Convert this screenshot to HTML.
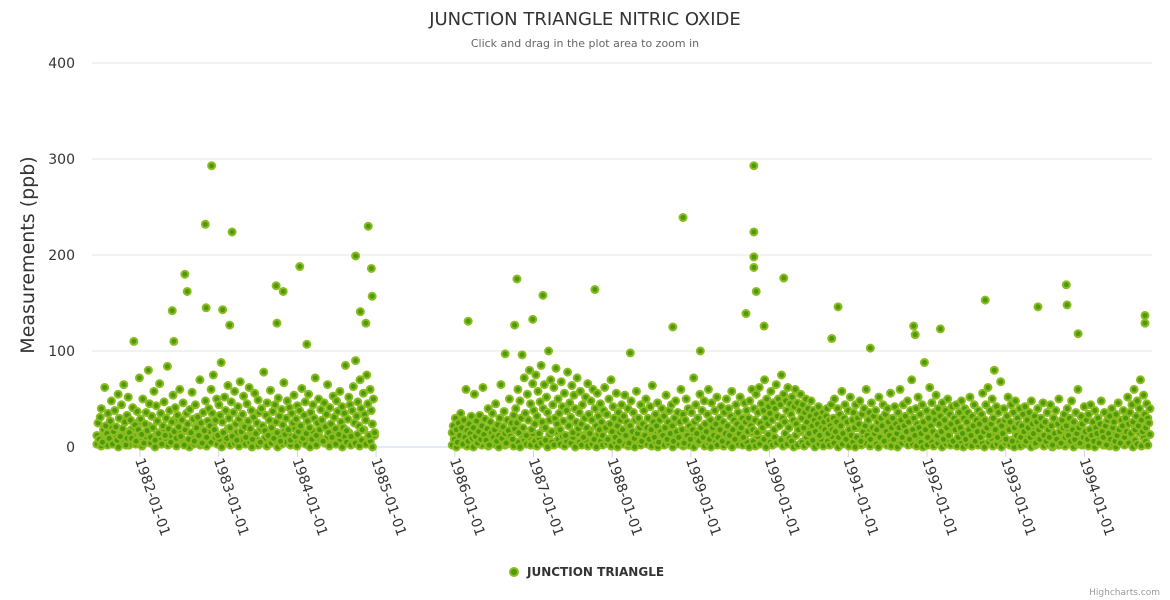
<!DOCTYPE html>
<html><head><meta charset="utf-8">
<style>
html,body{margin:0;padding:0;background:#fff;}
svg{display:block;font-family:"DejaVu Sans","Liberation Sans",sans-serif;}
</style></head>
<body>
<svg id="chart" width="1170" height="600" viewBox="0 0 1170 600">
  <text x="585" y="25" text-anchor="middle" font-size="18" fill="#333">JUNCTION TRIANGLE NITRIC OXIDE</text>
  <text x="585" y="47" text-anchor="middle" font-size="11" fill="#666">Click and drag in the plot area to zoom in</text>
  <g id="grid"></g>
  <g id="yaxis"></g>
  <text transform="translate(34,255) rotate(-90)" text-anchor="middle" font-size="19" fill="#333">Measurements (ppb)</text>
  <g id="xaxis"></g>
  <g id="points"></g>
  <g>
    <circle cx="514" cy="572" r="4" fill="#4f9a0a" stroke="#8bbc21" stroke-width="2"></circle>
    <text x="527" y="576" font-size="12" font-weight="bold" fill="#333">JUNCTION TRIANGLE</text>
  </g>
  <text x="1160" y="595" text-anchor="end" font-size="9" fill="#999">Highcharts.com</text>
</svg>
<script>
const yTicks = [0, 100, 200, 300, 400];
const xTickLabels = ["1982-01-01","1983-01-01","1984-01-01","1985-01-01","1986-01-01","1987-01-01","1988-01-01","1989-01-01","1990-01-01","1991-01-01","1992-01-01","1993-01-01","1994-01-01"];
const seg1Start = "1981-06-15";
const seg1End = "1984-12-25";
const seg1Values = [
12,25,8,31,40,5,18,62,22,14,35,9,27,48,3,16,38,21,7,55,
30,11,44,19,65,26,2,33,52,15,28,9,41,110,23,6,37,18,72,29,
13,50,4,24,36,17,80,45,10,32,20,58,7,43,27,14,66,35,3,22,
47,12,30,84,19,38,5,26,54,16,41,9,33,21,60,11,28,46,2,18,
35,24,8,39,15,57,29,6,44,20,31,12,70,25,4,36,17,48,10,27,
40,22,60,35,75,18,28,50,12,44,33,88,26,15,52,38,9,64,30,20,
47,11,36,58,24,7,42,29,68,16,34,53,21,10,45,27,62,19,38,8,
31,56,14,25,49,36,5,40,22,78,17,33,46,12,28,59,20,37,9,44,
26,15,51,32,6,39,23,67,13,30,48,18,41,7,35,25,54,11,29,43,
16,38,22,61,9,33,47,14,27,55,20,36,8,44,30,72,12,25,50,18,
39,28,6,46,21,34,65,15,41,24,10,53,31,19,48,37,13,58,26,42,
20,35,85,17,29,52,44,11,38,63,25,90,32,47,22,70,40,18,56,34,
28,75,45,12,60,38,24,50,15];
const seg1Low = [
3,10,1,6,14,2,8,20,4,12,0,7,16,5,9,2,18,11,3,25,
6,1,13,8,22,4,10,0,15,7,3,19,9,2,12,5,28,1,8,14,
4,17,6,0,11,3,21,9,2,13,7,1,16,5,24,10,3,8,0,12,
6,19,2,10,4,15,1,7,22,3,11,5,0,14,8,2,18,6,9,1,
13,4,26,7,0,10,3,16,5,12,2,20,8,1,11,6,15,3,9,0,
17,5,2,12,7,23,4,10,1,14,6,3,19,8,0,11,5,15,2,9,
4,13,1,7,18,3,10,6,0,12];
const seg2Start = "1985-12-20";
const seg2End = "1994-11-01";
const seg2Values = [
15,22,8,30,18,5,25,12,35,20,3,28,10,60,17,6,24,14,32,9,
20,55,11,27,4,16,33,8,22,62,13,29,7,19,40,2,26,15,35,10,
18,45,6,23,12,30,65,9,21,37,14,4,28,17,50,11,25,8,33,19,
40,25,60,15,48,30,96,20,72,35,12,55,28,80,45,18,66,38,24,75,
32,58,14,47,85,26,40,65,20,52,36,100,28,70,16,44,62,30,82,24,
50,35,18,68,42,27,56,12,38,78,22,46,31,64,15,54,40,26,72,19,
36,58,24,44,10,30,52,20,66,34,14,48,28,60,8,40,22,56,32,18,
45,26,12,38,62,20,34,8,50,24,70,16,42,30,10,56,22,36,6,28,
44,18,32,54,12,26,40,4,22,48,16,36,9,28,58,14,30,20,44,6,
24,38,12,50,20,30,8,42,18,64,26,10,34,22,46,5,28,16,40,12,
32,20,54,8,26,38,14,44,22,6,30,48,16,36,10,26,60,18,34,4,
28,50,12,40,22,8,36,18,72,26,44,14,30,6,55,20,38,10,48,24,
16,34,60,8,28,46,20,12,38,24,52,10,30,18,42,6,26,36,14,50,
22,40,12,32,58,18,28,8,44,24,36,14,52,20,30,10,46,26,38,16,
30,48,22,60,18,40,28,55,15,36,62,25,45,20,38,70,30,50,24,42,
35,58,28,46,18,40,65,32,50,22,44,75,30,55,26,48,38,62,20,45,
34,52,28,42,60,24,46,18,38,55,30,44,20,36,50,26,40,14,32,48,
22,38,28,16,34,24,42,12,30,20,36,26,18,32,40,14,28,22,44,18,
30,50,16,26,40,10,34,22,58,14,30,44,8,26,38,18,52,12,28,36,
20,44,10,30,24,48,6,34,16,40,22,60,12,28,36,8,46,20,32,14,
38,18,26,52,10,30,22,44,6,34,16,40,26,12,56,20,30,8,42,24,
14,36,20,60,28,10,44,22,32,16,48,26,8,38,70,18,30,12,40,24,
52,20,34,14,44,26,88,18,38,10,30,62,22,46,16,36,28,54,12,40,
24,32,16,46,8,28,38,20,50,12,34,24,42,6,30,18,44,26,10,36,
20,48,14,30,40,8,26,36,18,52,12,32,22,44,6,28,16,38,24,10,
34,56,16,28,44,20,62,12,38,24,50,30,80,18,42,10,36,26,68,22,
14,40,28,8,32,52,18,26,44,6,36,20,48,12,30,24,40,10,22,34,
16,42,6,28,20,36,10,48,24,14,32,4,26,40,18,8,30,22,46,12,
26,6,36,18,10,44,22,2,30,14,38,8,24,50,16,4,28,20,34,10,
22,40,12,30,6,48,18,26,8,36,14,60,20,4,32,24,10,42,16,28,
8,34,18,44,12,26,6,38,20,14,30,4,24,48,16,10,36,22,2,28,
14,32,8,40,20,26,6,34,12,46,18,4,28,22,38,10,30,16,52,24,
36,14,44,26,60,18,32,48,22,40,70,28,16,54,34,20,45,30,25,40];
const seg2Low = [
2,9,0,5,14,3,8,1,12,6,0,10,4,16,2,7,11,1,5,13,
3,8,0,15,6,2,11,4,9,1,18,5,0,12,7,3,10,2,14,6,
1,9,4,20,7,0,13,5,2,16,8,3,11,1,6,22,4,10,0,14,
5,2,12,7,1,17,3,9,0,13,6,2,19,4,8,1,11,5,0,15,
7,3,10,1,16,4,0,12,6,2,21,8,3,9,1,14,5,0,11,7,
2,18,4,10,0,13,6,3,8,1,15,5,2,12,0,9,4,17,7,1,
11,3,0,14,6,2,20,8,1,10,4,13,0,7,16,3,9,2,12,5,
0,15,6,1,11,3,18,8,0,13,5,2,10,4,22,7,1,14,3,9,
6,0,12,2,16,5,1,10,4,19,7,0,13,3,8,1,15,6,2,11,
4,17,0,9,3,14,7,1,12,5,0,20,8,2,10,4,16,1,6,13,
3,0,11,5,18,2,9,1,14,6,0,12,4,21,7,2,10,3,15,1,
8,5,0,13,2,17,6,1,11,4,9,0,15,3,7,2,19,5,1,12,
6,0,14,3,10,1,16,7,2,12,4,0,18,5,9,1,13,3,8,0,
11,4,20,2,7,0,15,5,1,10,3,13,6,0,17,2,9,4,12,1,
7,3,16,0,11,5,2,14,6,1,19,4,8,0,12,3,10,2,15,5,
1,13,6,0,9,4,18,2,11,7,1,14,3,0,10,5,16,2,8,4,
12,0,7,3,15,1,10,6,2,13];
const peakYears = [1982.91,1982.83,1983.17,1982.84,1983.05,1983.14,1982.57,1982.60,1982.41,1982.43,1983.73,1983.82,1984.03,1983.74,1984.74,1984.90,1984.94,1984.95,1984.80,1984.87,1984.12,
1986.17,1986.79,1987.12,1987.78,1988.90,1988.77,1989.80,1989.80,1989.80,1989.80,1989.83,1990.18,1989.70,1989.93,1990.87,1992.74,1993.41,1993.77,1993.78,1993.92,1994.77,1994.77,1991.83,1992.17,1991.85,1990.79,1991.28,1986.64,1986.76,1986.99,1988.23,1989.12];
const peakValues = [293,232,224,145,143,127,180,162,142,110,168,162,188,129,199,230,186,157,141,129,107,
131,175,158,164,239,125,293,224,198,187,162,176,139,126,146,153,146,169,148,118,137,129,126,123,117,113,103,97,127,133,98,100];

const NS = "http://www.w3.org/2000/svg";
const plotLeft = 92, plotRight = 1152, plotTop = 63, plotBottom = 447;
const yMax = 400;
function yScale(v){ return plotBottom - v/yMax*(plotBottom-plotTop); }
function toYear(s){ const d = new Date(s+"T00:00:00Z"); const y = d.getUTCFullYear(); const s0 = Date.UTC(y,0,1), s1 = Date.UTC(y+1,0,1); return y + (d.getTime()-s0)/(s1-s0); }
function xScale(year){ return 140 + (year-1982)*78.7; }
function mk(tag, attrs, parent){ const e = document.createElementNS(NS, tag); for (const k in attrs) e.setAttribute(k, attrs[k]); parent.appendChild(e); return e; }

const grid = document.getElementById("grid"), yaxis = document.getElementById("yaxis"), xaxis = document.getElementById("xaxis"), pts = document.getElementById("points");
yTicks.forEach(t => {
  const l = mk("line", {x1:plotLeft, x2:plotRight, y1:yScale(t), y2:yScale(t), stroke: t===0 ? "#ccd6eb" : "#e6e6e6", "stroke-width":1}, grid);
  
  
  const tx = mk("text", {x:75, y:yScale(t)+5, "text-anchor":"end", "font-size":14, fill:"#333"}, yaxis);
  tx.textContent = t;
  
  
});
xTickLabels.forEach(lbl => {
  const x = xScale(toYear(lbl));
  const tk = mk("line", {x1:x, x2:x, y1:plotBottom, y2:plotBottom+10, stroke:"#ccd6eb", "stroke-width":1}, xaxis);
  
  
  const tx = mk("text", {x:0, y:0, "font-size":14, fill:"#333", transform:`translate(${x-5},${plotBottom+13}) rotate(71)`}, xaxis);
  tx.textContent = lbl;
  
  
});
function drawSeg(start, end, vals){
  const a = toYear(start), b = toYear(end);
  vals.forEach((v,i) => {
    const yr = a + (b-a)*i/(vals.length-1);
    const c = mk("circle", {cx:xScale(yr), cy:yScale(v), r:3.5, fill:"#4f9a0a", stroke:"#8bbc21", "stroke-width":2}, pts);
    
    
  });
}
drawSeg(seg1Start, seg1End, seg1Low);
drawSeg(seg2Start, seg2End, seg2Low);
drawSeg(seg1Start, seg1End, seg1Values);
drawSeg(seg2Start, seg2End, seg2Values);
peakYears.forEach((yr,i) => {
  const c = mk("circle", {cx:xScale(yr), cy:yScale(peakValues[i]), r:3.5, fill:"#4f9a0a", stroke:"#8bbc21", "stroke-width":2}, pts);
  
  
});
</script>
</body></html>
